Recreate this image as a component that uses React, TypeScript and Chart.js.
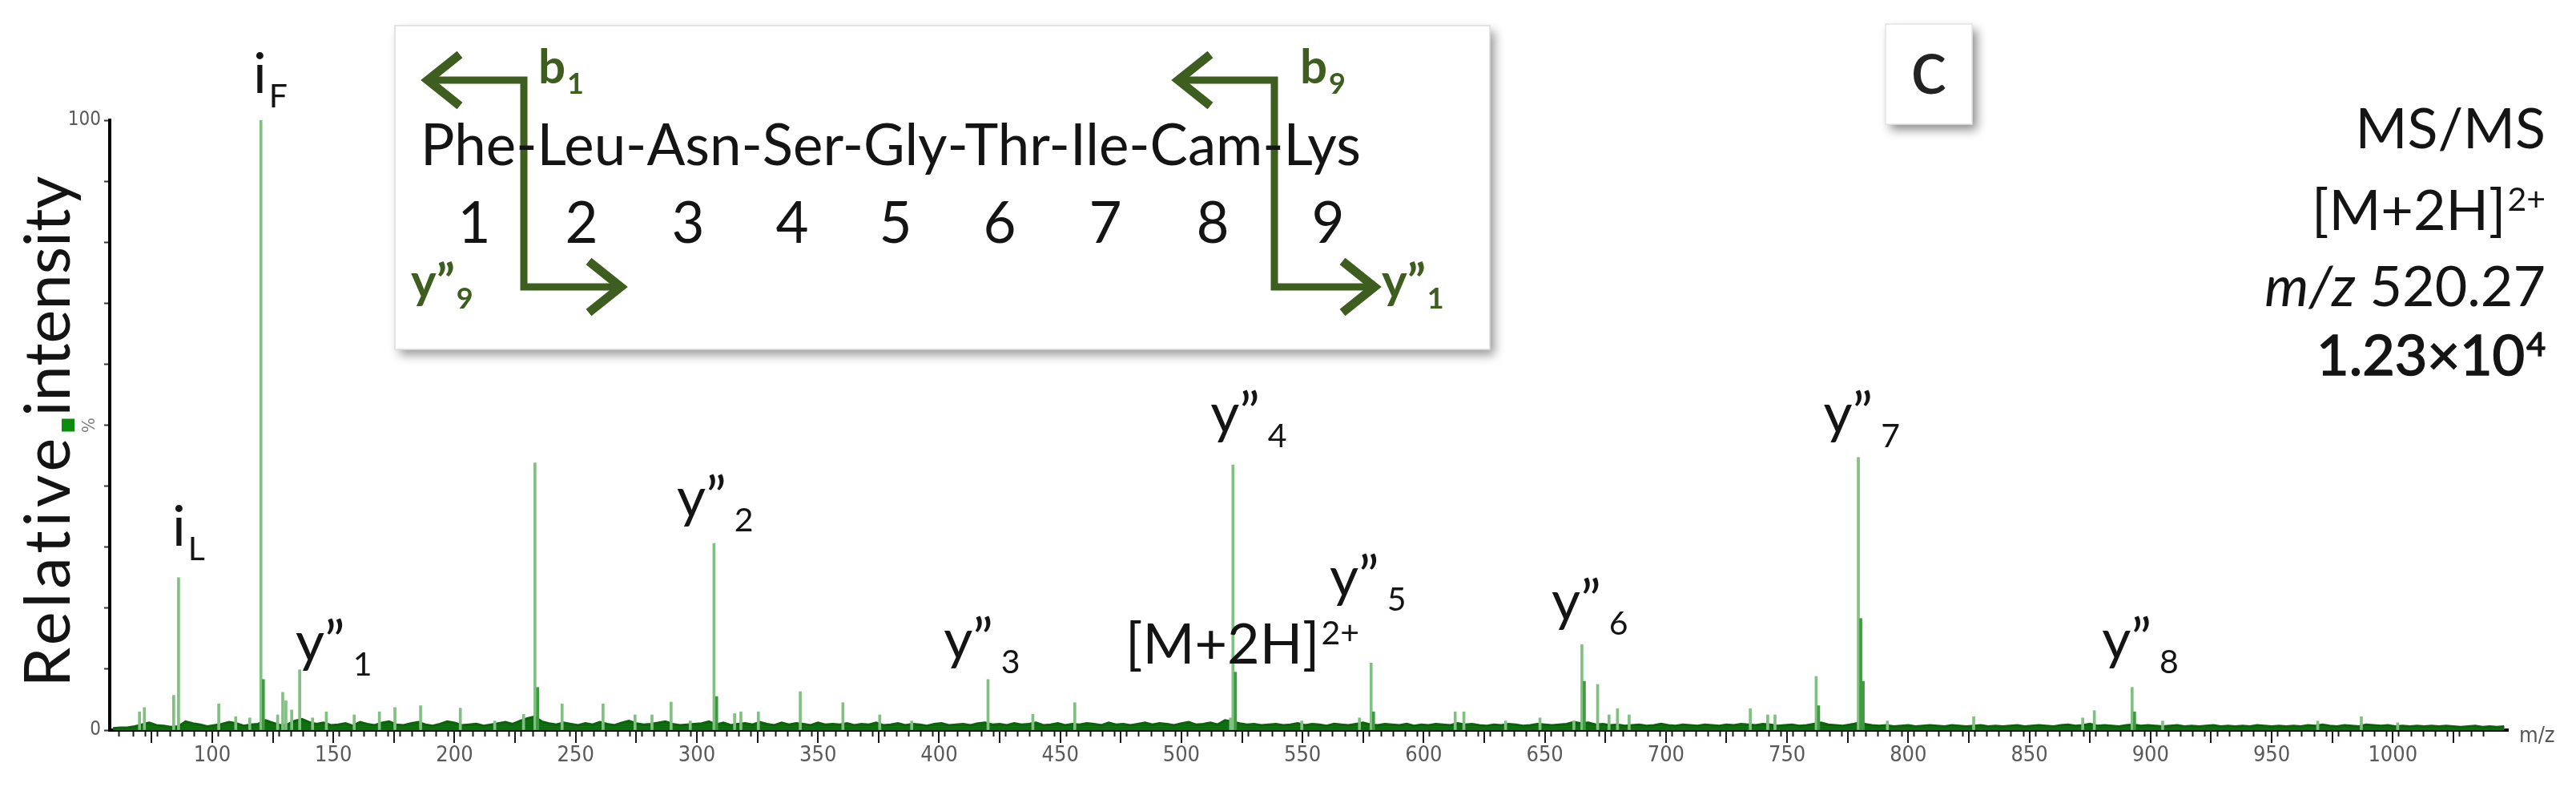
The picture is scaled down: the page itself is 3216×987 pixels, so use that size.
import React, { useEffect, useRef } from "react";
import { Chart, registerables } from "chart.js";

Chart.register(...registerables);

// ---------------- data ----------------
const mzMin = 57.7;
const mzMax = 1047.5;

// main fragment peaks (m/z, relative intensity %)
const peakMz = [
  70.0, 72.0, 84.1, 86.1, 102.7, 109.7, 115.5, 120.1, 127.0, 129.1, 130.4, 132.8, 136.1, 141.4, 147.1,
  158.6, 169.0, 175.4, 186.0, 202.4, 216.6, 228.5, 233.2, 244.4, 261.3, 274.5, 281.5, 289.4, 297.3,
  307.1, 315.6, 318.2, 325.4, 342.7, 360.3, 375.5, 388.7, 420.2, 438.7, 456.0, 520.3, 521.3, 549.7,
  573.5, 578.3, 613.0, 616.6, 633.8, 648.0, 662.0, 665.3, 671.8, 676.5, 680.0, 684.8, 734.8, 742.0,
  745.0, 762.0, 779.4, 791.4, 827.0, 872.0, 876.8, 892.4, 905.0, 969.0, 987.0, 1002.0,
];
const peakPct = [
  3.0, 3.7, 5.7, 25.0, 4.3, 2.2, 2.0, 100, 2.5, 6.2, 4.8, 3.3, 9.9, 2.0, 3.0,
  2.5, 3.0, 3.7, 4.0, 3.6, 1.5, 2.6, 43.8, 4.3, 4.3, 2.5, 2.5, 4.6, 1.5,
  30.6, 2.7, 3.0, 3.0, 6.3, 4.5, 2.5, 1.5, 8.3, 2.6, 4.5, 2.0, 43.5, 1.5,
  2.0, 11.0, 3.0, 3.0, 1.5, 2.0, 1.5, 14.0, 7.5, 2.5, 3.5, 2.5, 3.5, 2.5,
  2.5, 8.8, 44.7, 1.5, 2.2, 2.0, 3.2, 7.0, 1.5, 1.5, 2.2, 1.2,
];

// isotope / shoulder peaks drawn darker
const isotopeMz = [121.1, 234.3, 308.2, 522.3, 579.3, 666.3, 763.0, 780.4, 781.4, 893.4];
const isotopePct = [8.3, 7.0, 5.5, 9.5, 3.0, 8.0, 4.0, 18.3, 8.0, 3.0];

// baseline noise, one value every 3 m/z from m/z 59
const noiseFirstMz = 59;
const noiseStepMz = 3;
const noisePct = [
  0.3, 0.4, 0.4, 0.6, 0.9, 1.2, 0.8, 0.7, 0.5, 0.6, 1.4, 1.1, 0.9, 0.6, 0.8, 1.0, 1.3, 1.1, 0.7, 0.9,
  1.0, 1.6, 1.2, 0.8, 0.9, 1.5, 1.8, 1.3, 1.0, 1.2, 0.8, 0.9, 1.1, 0.7, 1.3, 1.0, 0.8, 1.2, 1.4, 0.9,
  0.8, 1.1, 1.3, 0.9, 0.7, 1.0, 1.4, 1.2, 0.8, 0.9, 1.0, 0.7, 0.9, 1.1, 1.3, 1.0, 1.5, 1.9, 2.2, 1.4,
  1.1, 0.9, 1.2, 1.0, 0.8, 1.1, 0.9, 1.3, 1.0, 0.8, 1.2, 1.5, 1.1, 0.9, 1.0, 1.2, 1.4, 1.0, 0.8, 0.9,
  1.0, 1.1, 1.4, 0.9, 1.2, 0.8, 1.0, 1.1, 0.9, 1.3, 1.0, 0.8, 1.2, 0.9, 1.1, 1.0, 0.8, 1.2, 0.9, 1.0,
  0.9, 1.1, 0.8, 1.0, 0.9, 1.2, 0.8, 0.9, 1.1, 0.8, 1.0, 0.9, 0.7, 1.0, 1.1, 0.8, 0.9, 1.0, 0.8, 1.1,
  1.2, 0.9, 1.0, 0.8, 1.1, 0.9, 1.0, 1.2, 0.8, 0.9, 1.1, 0.8, 1.0, 0.9, 1.1, 1.0, 0.8, 1.2, 0.9, 1.0,
  0.8, 1.0, 1.2, 0.9, 1.1, 1.0, 0.8, 1.1, 1.3, 0.9, 1.0, 1.2, 0.9, 1.6, 1.4, 1.1, 0.9, 1.0, 0.8, 0.9,
  1.0, 0.8, 0.9, 1.1, 0.8, 1.0, 0.9, 0.7, 1.0, 0.9, 0.8, 1.0, 1.2, 0.9, 0.8, 1.0, 0.9, 0.8, 1.0, 0.7,
  0.9, 0.8, 1.0, 0.9, 0.8, 1.1, 0.9, 1.0, 0.8, 0.7, 0.9, 0.8, 1.0, 0.9, 0.7, 0.8, 1.0, 0.9, 0.8, 0.9,
  1.0, 1.3, 1.1, 1.2, 0.9, 1.0, 0.8, 0.9, 0.7, 0.8, 0.9, 0.7, 0.8, 1.0, 0.8, 0.7, 0.9, 0.8, 0.7, 0.9,
  0.8, 0.7, 0.9, 0.8, 1.0, 0.9, 0.8, 1.0, 0.9, 0.7, 0.8, 0.9, 0.7, 0.8, 1.0, 1.2, 0.9, 0.8, 0.7, 0.9,
  1.1, 1.0, 0.8, 0.7, 0.8, 0.6, 0.7, 0.8, 0.6, 0.7, 0.8, 0.7, 0.6, 0.8, 0.7, 0.6, 0.7, 0.8, 0.6, 0.7,
  0.6, 0.7, 0.8, 0.6, 0.7, 0.8, 0.7, 0.6, 0.8, 0.9, 0.7, 0.8, 1.0, 0.7, 0.8, 0.7, 0.6, 0.8, 0.9, 0.7,
  0.8, 0.7, 0.6, 0.7, 0.8, 0.6, 0.7, 0.6, 0.7, 0.8, 0.6, 0.7, 0.6, 0.7, 0.6, 0.8, 0.7, 0.6, 0.7, 0.6,
  0.7, 0.6, 0.8, 0.7, 0.9, 0.7, 0.6, 0.8, 0.7, 0.6, 0.9, 0.8, 0.7, 0.8, 0.6, 0.7, 0.6, 0.7, 0.6, 0.7,
  0.6, 0.7, 0.6, 0.5, 0.6, 0.7, 0.5, 0.6, 0.5, 0.6,
];

// tick labels
const xLabelStep = 50;
const yTickText: Record<number, string> = { 0: "0", 100: "100" };

// ion annotations (text anchored in data space: m/z, %)
const ionMain = ["i", "i", "y\u201D", "y\u201D", "y\u201D", "[M+2H]", "y\u201D", "y\u201D", "y\u201D", "y\u201D", "y\u201D"];
const ionSub = ["F", "L", "1", "2", "3", "", "4", "5", "6", "7", "8"];
const ionSup = ["", "", "", "", "", "2+", "", "", "", "", ""];
const ionLabelMz = [116.9, 83.5, 134.4, 291.8, 401.9, 476.9, 512.0, 561.2, 652.8, 765.0, 880.0];
const ionLabelPct = [104.5, 30.2, 11.3, 35.0, 11.7, 10.9, 48.8, 21.9, 18.0, 48.8, 11.7];

// inset / info text
const sequenceText = "Phe-Leu-Asn-Ser-Gly-Thr-Ile-Cam-Lys";
const residueNumbers = ["1", "2", "3", "4", "5", "6", "7", "8", "9"];
const infoTitle = "MS/MS";
const infoIon = "[M+2H]";
const infoIonCharge = "2+";
const infoMzPrefix = "m/z";
const infoMzValue = " 520.27";
const infoAbundance = "1.23\u00D710";
const infoAbundanceExp = "4";
const panelLetter = "c";

// ---------------- styles ----------------
const LABEL_FONT = "Lato, 'Open Sans', 'Noto Sans', sans-serif";
const AXIS_FONT = "'Liberation Sans Narrow', 'DejaVu Sans Condensed', 'Liberation Sans', sans-serif";
const INK = "#141414";
const ARROW_GREEN = "#3d5e1e";
const LABEL_SIZE = 70;
const SUB_SIZE = 41;

function fitSize(ctx: CanvasRenderingContext2D, text: string, weight: string, family: string, target: number) {
  ctx.font = `${weight} 100px ${family}`;
  return (100 * target) / ctx.measureText(text).width;
}

function chevron(ctx: CanvasRenderingContext2D, tipX: number, tipY: number, dir: number) {
  ctx.beginPath();
  ctx.moveTo(tipX - dir * 40, tipY - 32);
  ctx.lineTo(tipX, tipY);
  ctx.lineTo(tipX - dir * 40, tipY + 32);
  ctx.stroke();
}

function bracket(ctx: CanvasRenderingContext2D, x: number, yTop: number, yBot: number, tipL: number, tipR: number) {
  ctx.lineWidth = 9;
  ctx.lineJoin = "miter";
  ctx.lineCap = "butt";
  ctx.beginPath();
  ctx.moveTo(tipL + 4, yTop);
  ctx.lineTo(x, yTop);
  ctx.lineTo(x, yBot);
  ctx.lineTo(tipR - 4, yBot);
  ctx.stroke();
  ctx.lineWidth = 11;
  chevron(ctx, tipL, yTop, -1);
  chevron(ctx, tipR, yBot, 1);
}

function greenLabel(ctx: CanvasRenderingContext2D, x: number, y: number, main: string, sub: string) {
  ctx.fillStyle = ARROW_GREEN;
  ctx.font = `700 60px ${LABEL_FONT}`;
  ctx.fillText(main, x, y);
  const w = ctx.measureText(main).width;
  ctx.font = `700 36px ${LABEL_FONT}`;
  ctx.fillText(sub, x + w + 2, y + 13);
}

const decorPlugin = {
  id: "spectrumDecor",
  afterDraw(chart: any) {
    const { ctx, chartArea } = chart;
    const xs = chart.scales.x;
    const ys = chart.scales.y;
    ctx.save();
    ctx.textAlign = "left";
    ctx.textBaseline = "alphabetic";

    // long ticks every 25 m/z
    ctx.strokeStyle = "#1a1a1a";
    ctx.lineWidth = 2;
    for (const t of xs.ticks) {
      if (t.value % 25 === 0) {
        const px = Math.round(xs.getPixelForValue(t.value));
        ctx.beginPath();
        ctx.moveTo(px, chartArea.bottom);
        ctx.lineTo(px, chartArea.bottom + 16);
        ctx.stroke();
      }
    }

    // unit label
    ctx.fillStyle = "#555";
    ctx.font = `27px ${AXIS_FONT}`;
    ctx.textBaseline = "middle";
    ctx.fillText("m/z", chartArea.right + 14, chartArea.bottom + 8);

    // % marker at 50
    const y50 = ys.getPixelForValue(50);
    ctx.save();
    ctx.translate(chartArea.left - 25, y50);
    ctx.rotate(-Math.PI / 2);
    ctx.textAlign = "center";
    ctx.font = `22px ${AXIS_FONT}`;
    ctx.fillStyle = "#808080";
    ctx.fillText("%", 0, 0);
    ctx.restore();

    // y-axis title (two words around the green marker)
    ctx.textBaseline = "alphabetic";
    const titleSize = fitSize(ctx, "intensity", "400", LABEL_FONT, 300);
    ctx.fillStyle = INK;
    ctx.font = `400 ${titleSize}px ${LABEL_FONT}`;
    ctx.save();
    ctx.translate(chartArea.left - 50, y50 - 11);
    ctx.rotate(-Math.PI / 2);
    ctx.textAlign = "left";
    ctx.fillText("intensity", 0, 0);
    ctx.restore();
    ctx.save();
    ctx.translate(chartArea.left - 50, y50 + 11);
    ctx.rotate(-Math.PI / 2);
    ctx.textAlign = "right";
    (ctx as any).letterSpacing = "5px";
    ctx.fillText("Relative", 0, 0);
    (ctx as any).letterSpacing = "0px";
    ctx.restore();
    ctx.fillStyle = "#0c8c0c";
    ctx.fillRect(chartArea.left - 60, y50 - 8, 16, 16);

    // ion labels
    ctx.fillStyle = INK;
    ctx.textAlign = "left";
    ionMain.forEach((main, i) => {
      const x = xs.getPixelForValue(ionLabelMz[i]);
      const y = ys.getPixelForValue(ionLabelPct[i]);
      ctx.font = `400 ${LABEL_SIZE}px ${LABEL_FONT}`;
      ctx.fillText(main, x, y);
      const w = ctx.measureText(main).width;
      ctx.font = `400 ${SUB_SIZE}px ${LABEL_FONT}`;
      if (ionSub[i]) ctx.fillText(ionSub[i], x + w + (main === "i" ? 3 : 10), y + 18);
      if (ionSup[i]) ctx.fillText(ionSup[i], x + w + 2, y - 24);
    });

    // info block, right aligned
    const R = 3178;
    ctx.font = `400 ${LABEL_SIZE}px ${LABEL_FONT}`;
    ctx.textAlign = "right";
    ctx.fillText(infoTitle, R, 185);
    // [M+2H]2+
    ctx.font = `400 ${SUB_SIZE}px ${LABEL_FONT}`;
    const supW = ctx.measureText(infoIonCharge).width;
    ctx.fillText(infoIonCharge, R, 263);
    ctx.font = `400 ${LABEL_SIZE}px ${LABEL_FONT}`;
    ctx.fillText(infoIon, R - supW - 2, 287);
    // m/z 520.27
    const valW = ctx.measureText(infoMzValue).width;
    ctx.fillText(infoMzValue, R, 382);
    ctx.font = `italic 400 ${LABEL_SIZE}px ${LABEL_FONT}`;
    ctx.fillText(infoMzPrefix, R - valW, 382);
    // 1.23x10^4 (slightly emboldened)
    ctx.strokeStyle = INK;
    ctx.lineWidth = 1.6;
    ctx.font = `400 ${SUB_SIZE}px ${LABEL_FONT}`;
    const expW = ctx.measureText(infoAbundanceExp).width;
    ctx.fillText(infoAbundanceExp, R, 444);
    ctx.strokeText(infoAbundanceExp, R, 444);
    ctx.font = `400 ${LABEL_SIZE}px ${LABEL_FONT}`;
    ctx.fillText(infoAbundance, R - expW - 2, 468);
    ctx.strokeText(infoAbundance, R - expW - 2, 468);

    // panel letter box
    ctx.textAlign = "left";
    ctx.save();
    ctx.shadowColor = "rgba(0,0,0,0.45)";
    ctx.shadowBlur = 12;
    ctx.shadowOffsetX = 6;
    ctx.shadowOffsetY = 7;
    ctx.fillStyle = "#fff";
    ctx.fillRect(2354, 30, 108, 125);
    ctx.restore();
    ctx.strokeStyle = "#e4e4e4";
    ctx.lineWidth = 1.5;
    ctx.strokeRect(2354, 30, 108, 125);
    ctx.fillStyle = "#222";
    ctx.font = `400 96px ${LABEL_FONT}`;
    ctx.textAlign = "center";
    ctx.fillText(panelLetter, 2408, 117);

    // peptide inset
    const bx = 493, by = 32, bw = 1367, bh = 404;
    ctx.save();
    ctx.shadowColor = "rgba(0,0,0,0.4)";
    ctx.shadowBlur = 12;
    ctx.shadowOffsetX = 6;
    ctx.shadowOffsetY = 7;
    ctx.fillStyle = "#fff";
    ctx.fillRect(bx, by, bw, bh);
    ctx.restore();
    ctx.strokeStyle = "#dcdcdc";
    ctx.lineWidth = 1.5;
    ctx.strokeRect(bx, by, bw, bh);

    ctx.strokeStyle = ARROW_GREEN;
    bracket(ctx, 654, 100, 358, 534, 775);
    bracket(ctx, 1591, 100, 358, 1471, 1716);

    ctx.fillStyle = INK;
    ctx.textAlign = "left";
    const seqSize = fitSize(ctx, sequenceText, "400", LABEL_FONT, 1174);
    ctx.font = `400 ${seqSize}px ${LABEL_FONT}`;
    ctx.fillText(sequenceText, 525, 206);
    ctx.textAlign = "center";
    const numX = [592, 726, 859, 989, 1118, 1248, 1380, 1514, 1658];
    residueNumbers.forEach((n, i) => ctx.fillText(n, numX[i], 303));

    ctx.textAlign = "left";
    greenLabel(ctx, 672, 104, "b", "1");
    greenLabel(ctx, 1623, 104, "b", "9");
    greenLabel(ctx, 513, 372, "y\u201D", "9");
    greenLabel(ctx, 1725, 372, "y\u201D", "1");

    ctx.restore();
  },
};

export default function App() {
  const ref = useRef<HTMLCanvasElement | null>(null);
  useEffect(() => {
    document.body.style.margin = "0";
    const canvas = ref.current;
    if (!canvas) return;
    const chart = new Chart(canvas, {
      type: "bar",
      data: {
        datasets: [
          {
            type: "line",
            label: "baseline",
            data: noisePct.map((v, i) => ({ x: noiseFirstMz + i * noiseStepMz, y: v })),
            borderColor: "#0b620b",
            backgroundColor: "#0f6e0f",
            borderWidth: 3,
            pointRadius: 0,
            fill: "origin",
            tension: 0,
            order: 3,
          } as any,
          {
            type: "bar",
            label: "isotopes",
            data: isotopeMz.map((m, i) => ({ x: m, y: isotopePct[i] })),
            backgroundColor: "#3e9a3e",
            barThickness: 3,
            grouped: false,
            order: 1,
          } as any,
          {
            type: "bar",
            label: "fragments",
            data: peakMz.map((m, i) => ({ x: m, y: peakPct[i] })),
            backgroundColor: "#80c080",
            barThickness: 3,
            grouped: false,
            order: 2,
          } as any,
        ],
      },
      options: {
        animation: false,
        responsive: false,
        devicePixelRatio: 1,
        layout: { padding: { left: 0, right: 85, top: 150, bottom: 0 } },
        plugins: { legend: { display: false }, tooltip: { enabled: false } },
        scales: {
          x: {
            type: "linear",
            min: mzMin,
            max: mzMax,
            offset: false,
            grid: {
              display: true,
              drawOnChartArea: false,
              drawTicks: true,
              tickLength: 8,
              tickWidth: 2,
              tickColor: (c: any) =>
                c.tick && Number.isInteger(c.tick.value) && c.tick.value % 5 === 0 ? "#1a1a1a" : "rgba(0,0,0,0)",
            },
            border: { display: true, color: "#000", width: 4 },
            ticks: {
              stepSize: 5,
              autoSkip: false,
              maxRotation: 0,
              padding: 8,
              color: "#5a5a5a",
              font: { family: AXIS_FONT, size: 27 },
              callback: (v: any) => (Number(v) % xLabelStep === 0 ? String(v) : ""),
            },
            afterFit: (s: any) => {
              s.height = 76;
            },
          },
          y: {
            min: 0,
            max: 100,
            grid: { display: true, drawOnChartArea: false, tickLength: 7, tickWidth: 2, tickColor: "#333" },
            border: { display: true, color: "#000", width: 4 },
            ticks: {
              stepSize: 10,
              autoSkip: false,
              padding: 4,
              color: "#5a5a5a",
              font: { family: AXIS_FONT, size: 24 },
              callback: (v: any) => yTickText[Number(v)] ?? "",
            },
            afterFit: (s: any) => {
              s.width = 137;
            },
          },
        },
      } as any,
      plugins: [decorPlugin],
    });
    return () => chart.destroy();
  }, []);
  return (
    <div style={{ width: 3216, height: 987, background: "#fff" }}>
      <canvas ref={ref} width={3216} height={987} style={{ display: "block", width: 3216, height: 987 }} />
    </div>
  );
}
